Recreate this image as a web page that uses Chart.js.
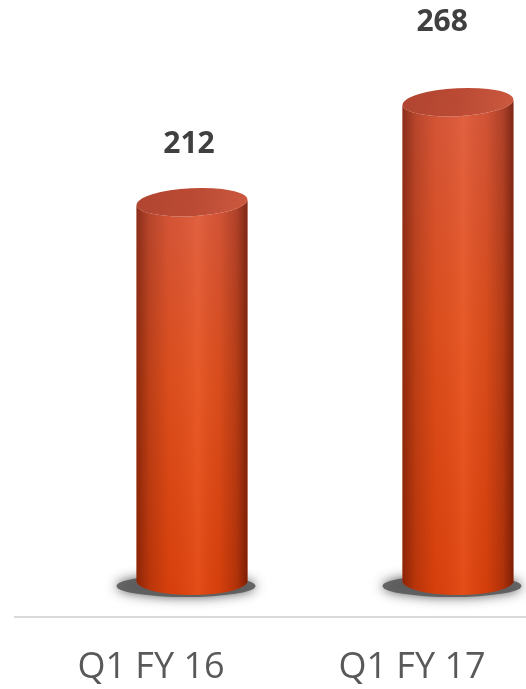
<!DOCTYPE html>
<html>
<head>
<meta charset="utf-8">
<script src="https://cdn.jsdelivr.net/npm/chart.js@4.4.0/dist/chart.umd.min.js"></script>
<style>
  html, body { margin: 0; padding: 0; background: #fff; overflow: hidden; }
  #wrap { width: 526px; height: 689px; position: relative; }
  canvas { display: block; }
</style>
</head>
<body>
<div id="wrap"><canvas id="grafica"></canvas></div>
<script>
const categorias = ["Q1 FY 16", "Q1 FY 17"];
const valores = [212, 268];
const ejeMin = 0;
const ejeMax = 300;

Chart.defaults.font.family = "'Open Sans', sans-serif";

// draws each bar as a cylinder (the bars themselves are transparent)
const cilindros = {
  id: "cilindros",
  beforeDatasetsDraw(chart) {
    const ctx = chart.ctx;
    const area = chart.chartArea;
    const meta = chart.getDatasetMeta(0);

    // floor line under the cylinders
    ctx.save();
    ctx.strokeStyle = "#d9d9d9";
    ctx.lineWidth = 2;
    ctx.beginPath();
    ctx.moveTo(14, area.bottom + 36);
    ctx.lineTo(chart.width, area.bottom + 36);
    ctx.stroke();
    ctx.restore();

    meta.data.forEach((bar) => {
      const cx = bar.x + 41 + (bar.x - area.left) * 0.019;
      const rx = 55.5;
      const ry = 14;
      const top = bar.y;
      const base = bar.base;

      // shadow
      ctx.save();
      ctx.shadowColor = "rgba(40,40,40,0.85)";
      ctx.shadowBlur = 12;
      ctx.fillStyle = "rgba(90,90,90,0.9)";
      ctx.beginPath();
      ctx.ellipse(cx - 6, base + 5, rx + 14, ry - 3, 0, 0, Math.PI * 2);
      ctx.fill();
      ctx.restore();

      // body
      ctx.save();
      ctx.beginPath();
      ctx.moveTo(cx - rx, top);
      ctx.lineTo(cx - rx, base);
      ctx.ellipse(cx, base, rx, ry, 0, Math.PI, 0, true);
      ctx.lineTo(cx + rx, top);
      ctx.ellipse(cx, top, rx, ry, -0.05, 0, Math.PI, false);
      ctx.closePath();
      const vert = ctx.createLinearGradient(0, top, 0, base + ry);
      vert.addColorStop(0, "#dc5a3c");
      vert.addColorStop(0.45, "#e4521f");
      vert.addColorStop(1, "#e0430c");
      ctx.fillStyle = vert;
      ctx.fill();
      const hor = ctx.createLinearGradient(cx - rx, 0, cx + rx, 0);
      hor.addColorStop(0, "rgba(70,10,0,0.55)");
      hor.addColorStop(0.12, "rgba(70,10,0,0.25)");
      hor.addColorStop(0.3, "rgba(70,10,0,0.06)");
      hor.addColorStop(0.55, "rgba(255,150,110,0.12)");
      hor.addColorStop(0.75, "rgba(70,10,0,0.08)");
      hor.addColorStop(0.9, "rgba(70,10,0,0.3)");
      hor.addColorStop(1, "rgba(60,5,0,0.6)");
      ctx.fillStyle = hor;
      ctx.fill();
      ctx.restore();

      // top cap
      ctx.save();
      const tapa = ctx.createLinearGradient(cx - rx, top - ry, cx + rx, top + ry);
      tapa.addColorStop(0, "#b04530");
      tapa.addColorStop(0.5, "#bb4a34");
      tapa.addColorStop(1, "#cc5a40");
      ctx.fillStyle = tapa;
      ctx.beginPath();
      ctx.ellipse(cx, top, rx, ry, -0.05, 0, Math.PI * 2);
      ctx.fill();
      ctx.restore();
    });
  },
  afterDatasetsDraw(chart) {
    const ctx = chart.ctx;
    const area = chart.chartArea;
    const meta = chart.getDatasetMeta(0);
    ctx.save();
    ctx.fillStyle = "#404040";
    ctx.font = "bold 30px 'Open Sans', sans-serif";
    ctx.textAlign = "center";
    ctx.textBaseline = "middle";
    meta.data.forEach((bar, i) => {
      const lx = bar.x + 38 - (bar.x - area.left) * 0.03;
      const ly = bar.base - 1.222 * (bar.base - bar.y) + 26.4;
      ctx.fillText(String(valores[i]), lx, ly);
    });
    ctx.restore();
  }
};

const chart = new Chart(document.getElementById("grafica"), {
  type: "bar",
  data: {
    labels: categorias,
    datasets: [
      {
        data: valores,
        backgroundColor: "rgba(0,0,0,0)",
        borderWidth: 0,
        barThickness: 111
      }
    ]
  },
  options: {
    responsive: true,
    maintainAspectRatio: false,
    animation: false,
    layout: { padding: { top: 45, left: 151, right: 114, bottom: 0 } },
    plugins: {
      legend: { display: false },
      tooltip: { enabled: false }
    },
    scales: {
      x: {
        offset: false,
        grid: { display: false, drawTicks: false },
        border: { display: false },
        ticks: {
          color: "#595959",
          padding: 65,
          maxRotation: 0,
          autoSkip: false,
          font: { size: 36 }
        },
        afterFit(scale) {
          scale.height = 108;
          scale.paddingLeft = 0;
          scale.paddingRight = 0;
        }
      },
      y: {
        display: false,
        min: ejeMin,
        max: ejeMax
      }
    }
  },
  plugins: [cilindros]
});
</script>
</body>
</html>
